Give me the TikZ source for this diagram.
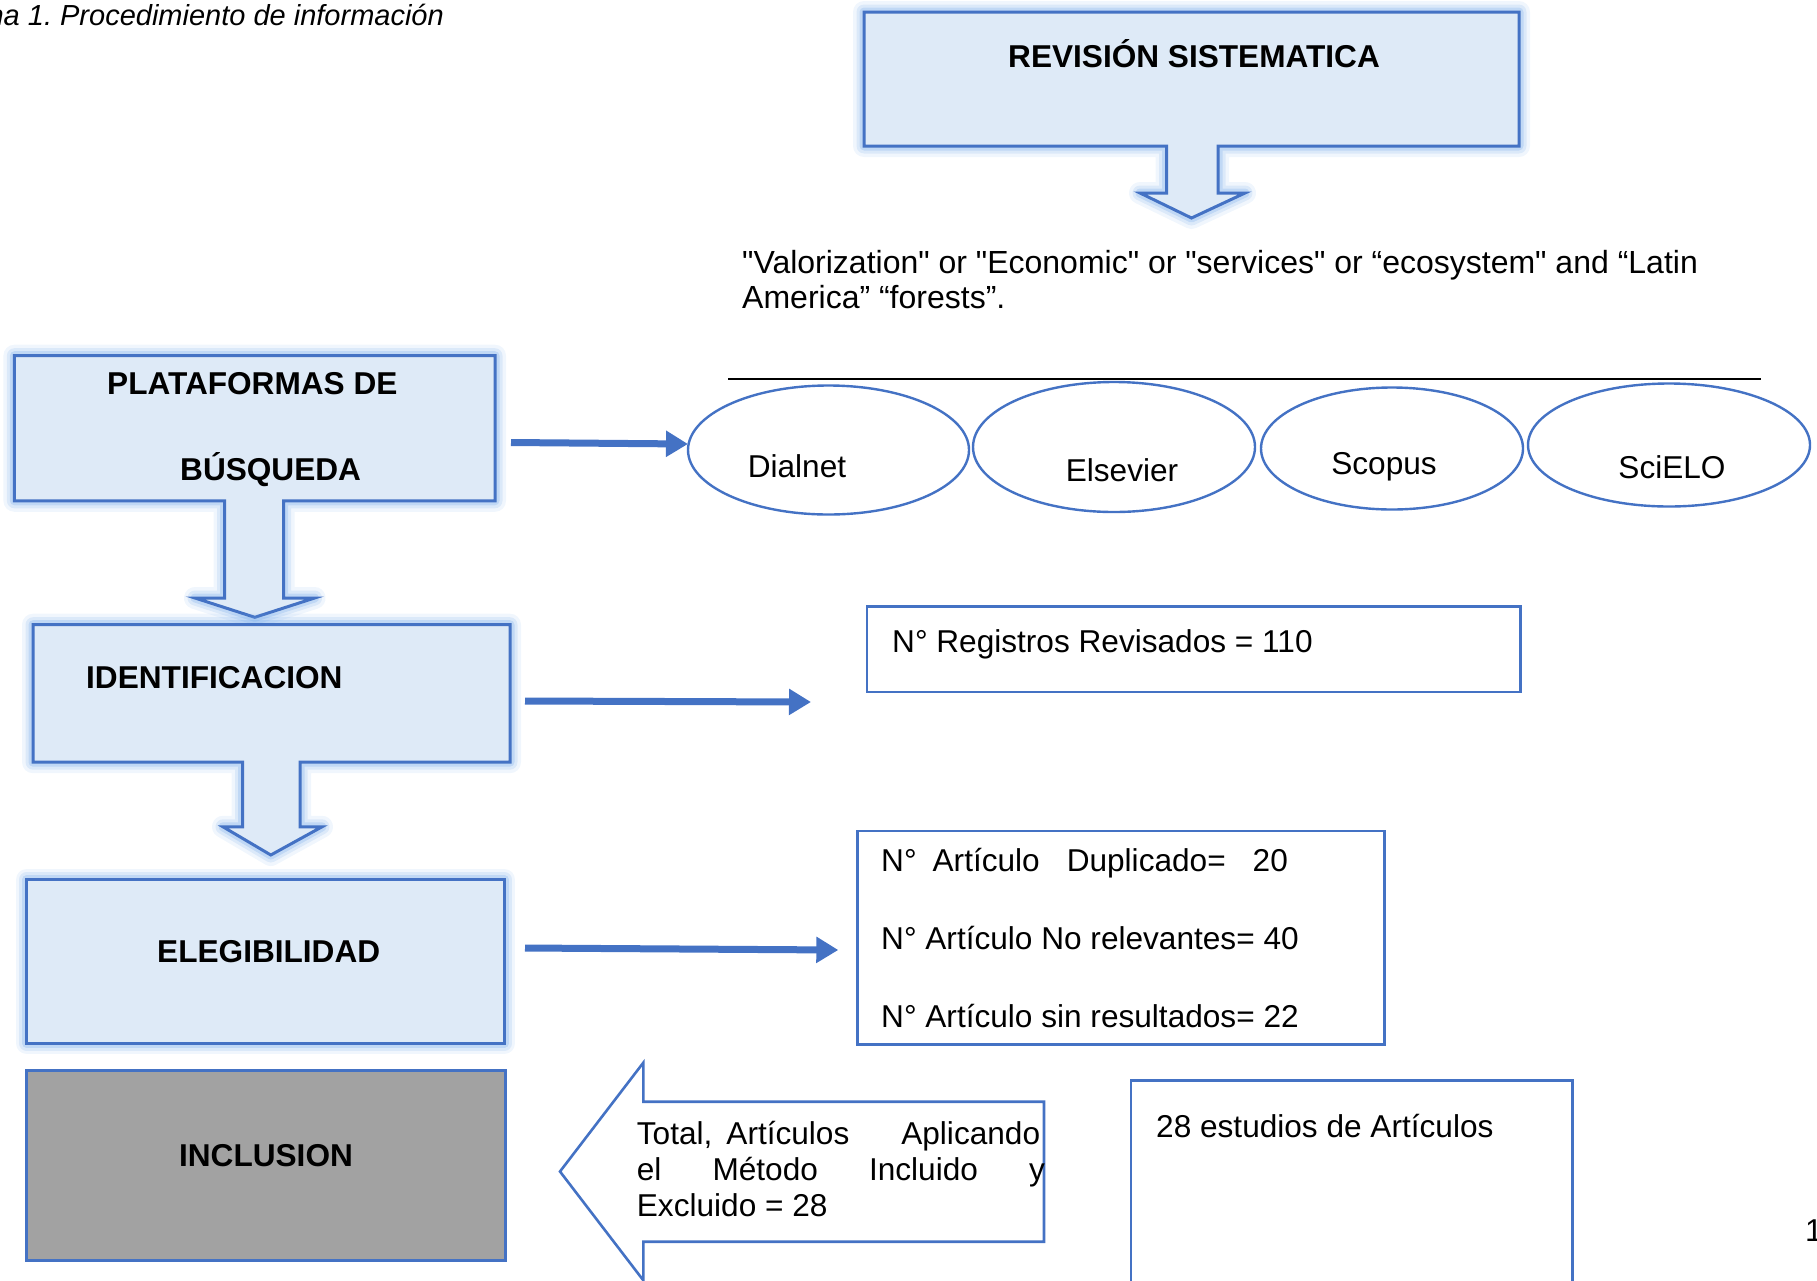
\documentclass[tikz,border=0pt]{standalone}
\usepackage{fontspec}
\setmainfont{Liberation Sans}[Ligatures=TeXOff]
\usetikzlibrary{shapes.geometric,arrows.meta}
\definecolor{bordc}{RGB}{68,114,196}
\definecolor{lightfill}{RGB}{222,234,247}
\definecolor{glowc}{RGB}{110,165,232}
\definecolor{grayfill}{RGB}{162,162,162}
\frenchspacing
\begin{document}
\begin{tikzpicture}[x=1pt,y=-1pt,
  glowbox/.style={
    preaction={draw=glowc,draw opacity=.10,line width=22pt,line join=round},
    preaction={draw=glowc,draw opacity=.16,line width=15pt,line join=round},
    preaction={draw=glowc,draw opacity=.25,line width=9pt,line join=round},
    fill=lightfill, draw=bordc, line width=3pt, line join=miter},
  plainbox/.style={fill=white, draw=bordc, line width=2.6pt},
  ell/.style={ellipse, draw=bordc, fill=white, line width=2.4pt, inner sep=0pt},
  txt/.style={inner sep=0pt, anchor=base west, font=\fontsize{31.6}{36}\selectfont},
  ctxt/.style={inner sep=0pt, anchor=base, font=\fontsize{31.6}{36}\selectfont},
  btxt/.style={inner sep=0pt, anchor=base west, font=\fontsize{31.6}{36}\selectfont\bfseries},
  cbtxt/.style={inner sep=0pt, anchor=base, font=\fontsize{31.6}{36}\selectfont\bfseries},
  conn/.style={draw=bordc, line width=7pt, -{Triangle[length=22pt,width=25pt]}}
]
\useasboundingbox (0,0) rectangle (1817,1280);
\clip (0,0) rectangle (1817,1280);

% caption and page number
\node[inner sep=0pt, anchor=base east, font=\fontsize{29}{32}\selectfont\itshape] (caption) at (444,25) {ma 1. Procedimiento de información};
\node[txt] (pagenum) at (1805,1241) {1};

% REVISION SISTEMATICA with down arrow
\path[glowbox] (864,12) -- (1519,12) -- (1519,146) -- (1218,146) -- (1218,193) -- (1245,193)
  -- (1191.5,218) -- (1140,193) -- (1166.6,193) -- (1166.6,146) -- (864,146) -- cycle;
\node[cbtxt] (revision) at (1194,67) {REVISIÓN SISTEMATICA};

% query text
\node[txt, font=\fontsize{32}{36}\selectfont] (query1) at (742,273.5) {"Valorization" or "Economic" or "services" or “ecosystem" and “Latin};
\node[txt, font=\fontsize{32}{36}\selectfont] (query2) at (742,308.7) {America” “forests”.};

% rule
\coordinate (ruleL) at (728,379);
\coordinate (ruleR) at (1761,379);
\draw[black, line width=2pt] (ruleL) -- (ruleR);

% databases
\node[ell, minimum width=281pt, minimum height=129pt] (dialnet) at (828.5,450) {};
\node[ell, minimum width=282pt, minimum height=130pt] (elsevier) at (1114,447) {};
\node[ell, minimum width=262pt, minimum height=122pt] (scopus) at (1392,448.5) {};
\node[ell, minimum width=282pt, minimum height=123pt] (scielo) at (1669,445) {};
\node[ctxt] (tdialnet) at (797,477) {Dialnet};
\node[ctxt] (telsevier) at (1122,481) {Elsevier};
\node[ctxt] (tscopus) at (1384,474) {Scopus};
\node[ctxt] (tscielo) at (1672,478) {SciELO};

% PLATAFORMAS DE BUSQUEDA with down arrow
\path[glowbox] (14.4,355.7) -- (495,355.7) -- (495,500.8) -- (283.6,500.8) -- (283.6,598) -- (314.6,598)
  -- (254.8,617.3) -- (195,598) -- (224.5,598) -- (224.5,500.8) -- (14.4,500.8) -- cycle;
\node[btxt] (plat1) at (107,394.7) {PLATAFORMAS DE};
\node[btxt] (plat2) at (180,480) {BÚSQUEDA};

% IDENTIFICACION with down arrow
\path[glowbox] (33,624.7) -- (510,624.7) -- (510,762.2) -- (300.2,762.2) -- (300.2,826.8) -- (322,826.8)
  -- (270.8,855) -- (223,826.8) -- (242.7,826.8) -- (242.7,762.2) -- (33,762.2) -- cycle;
\node[btxt] (ident) at (86,688) {IDENTIFICACION};

% ELEGIBILIDAD
\path[glowbox] (26.7,879.7) rectangle (504.4,1043.2);
\node[cbtxt] (eleg) at (268.7,962) {ELEGIBILIDAD};

% INCLUSION
\path[fill=grayfill, draw=bordc, line width=3pt] (26.7,1070.5) rectangle (505,1260);
\node[cbtxt] (incl) at (266,1166) {INCLUSION};

% result boxes
\path[plainbox] (867,606.5) rectangle (1520.5,692);
\node[txt] (registros) at (892,652) {N° Registros Revisados = 110};

\path[plainbox] (857.3,831) rectangle (1384.3,1044.5);
\node[txt] (dup1) at (881,871) {N°\hspace{16pt}Artículo\hspace{27pt}Duplicado=\hspace{27pt}20};
\node[txt] (dup2) at (881,949) {N° Artículo No relevantes= 40};
\node[txt] (dup3) at (881,1027) {N° Artículo sin resultados= 22};

\path[plainbox] (1131,1080.5) rectangle (1572.5,1300);
\node[txt] (estudios) at (1156,1137.7) {28 estudios de Artículos};

% left arrow callout
\path[plainbox, line join=miter] (643.3,1062.7) -- (643.3,1101.7) -- (1044,1101.7) -- (1044,1241.7)
  -- (643.3,1241.7) -- (643.3,1280.3) -- (560,1171.5) -- cycle;
\node[txt] (total1) at (636.7,1144) {Total,\hspace{14pt}Artículos\hspace{52pt}Aplicando};
\node[txt] (total2) at (636.7,1180.7) {\makebox[408pt][l]{el\hfill Método\hfill Incluido\hfill y}};
\node[txt] (total3) at (636.7,1216.7) {Excluido = 28};

% connectors
\coordinate (a1s) at (511,442.5);
\coordinate (a1e) at (688,444);
\coordinate (a2s) at (525,701);
\coordinate (a2e) at (811,702);
\coordinate (a3s) at (525,948);
\coordinate (a3e) at (838.3,950);
\draw[conn] (a1s) -- (a1e);
\draw[conn] (a2s) -- (a2e);
\draw[conn] (a3s) -- (a3e);
\end{tikzpicture}
\end{document}
